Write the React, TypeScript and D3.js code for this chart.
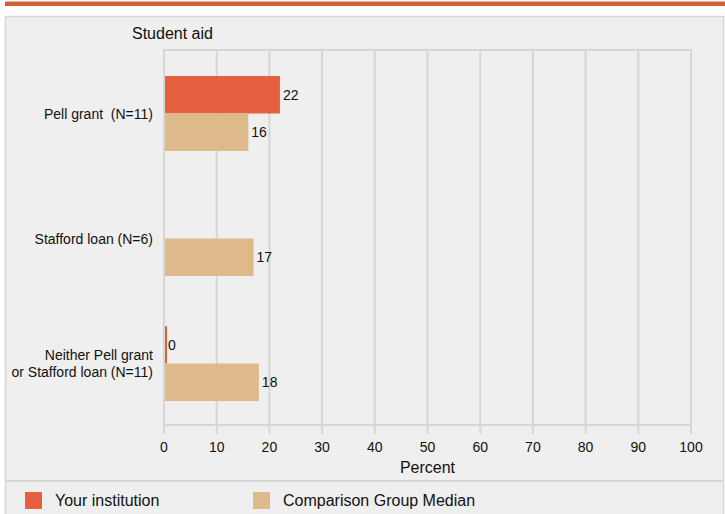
import { useEffect, useRef } from "react";
import * as d3 from "d3";

const WIDTH = 725;
const HEIGHT = 514;
const PLOT = { left: 164, right: 691, top: 51, bottom: 426 };
const FONT = "'Liberation Sans', Arial, sans-serif";

const categories = ["Pell grant  (N=11)", "Stafford loan (N=6)", "Neither Pell grant\nor Stafford loan (N=11)"];
const institution: (number | null)[] = [22, null, 0];
const comparison: (number | null)[] = [16, 17, 18];
const seriesNames = ["Your institution", "Comparison Group Median"];
const seriesColors = ["#e4603e", "#deb989"];
const xTicks = [0, 10, 20, 30, 40, 50, 60, 70, 80, 90, 100];

export default function App() {
  const ref = useRef<SVGSVGElement>(null);

  useEffect(() => {
    const svg = d3.select(ref.current);
    svg.selectAll("*").remove();

    // top accent band and panel
    svg.append("rect").attr("x", 5).attr("y", 1.5).attr("width", WIDTH).attr("height", 4.5).attr("fill", "#d15f3b");
    svg
      .append("rect")
      .attr("x", 5.5)
      .attr("y", 16.5)
      .attr("width", 718)
      .attr("height", HEIGHT)
      .attr("fill", "#efefef")
      .attr("stroke", "#d6d6d6")
      .attr("stroke-width", 1.5);
    svg
      .append("line")
      .attr("x1", 5)
      .attr("x2", 724)
      .attr("y1", 481)
      .attr("y2", 481)
      .attr("stroke", "#d6d6d6")
      .attr("stroke-width", 2);

    svg
      .append("text")
      .attr("x", 132)
      .attr("y", 39)
      .attr("font-family", FONT)
      .attr("font-size", 16)
      .attr("fill", "#111")
      .text("Student aid");

    const x = d3.scaleLinear().domain([0, 100]).range([PLOT.left, PLOT.right]);
    const y = d3.scaleBand<string>().domain(categories).range([PLOT.top, PLOT.bottom]).paddingInner(0.4).paddingOuter(0.2);
    const sub = d3.scaleBand<number>().domain([0, 1]).range([0, y.bandwidth()]);

    // grid
    const grid = svg.append("g");
    grid
      .selectAll("line.v")
      .data(xTicks)
      .join("line")
      .attr("x1", (d) => x(d))
      .attr("x2", (d) => x(d))
      .attr("y1", PLOT.top - 1)
      .attr("y2", PLOT.bottom + 8)
      .attr("stroke", "#d6d6d6")
      .attr("stroke-width", 2);
    [PLOT.top - 1, PLOT.bottom - 1].forEach((yy) =>
      grid
        .append("line")
        .attr("x1", PLOT.left - 1)
        .attr("x2", PLOT.right + 1)
        .attr("y1", yy)
        .attr("y2", yy)
        .attr("stroke", "#d6d6d6")
        .attr("stroke-width", 2)
    );

    // tick labels
    svg
      .append("g")
      .selectAll("text")
      .data(xTicks)
      .join("text")
      .attr("x", (d) => x(d))
      .attr("y", 452)
      .attr("text-anchor", "middle")
      .attr("font-family", FONT)
      .attr("font-size", 14)
      .attr("fill", "#111")
      .text((d) => String(d));
    svg
      .append("text")
      .attr("x", (PLOT.left + PLOT.right) / 2)
      .attr("y", 473)
      .attr("text-anchor", "middle")
      .attr("font-family", FONT)
      .attr("font-size", 16)
      .attr("fill", "#111")
      .text("Percent");

    // category labels
    const cat = svg.append("g");
    categories.forEach((c) => {
      const lines = c.split("\n");
      const cy = (y(c) ?? 0) + y.bandwidth() / 2;
      lines.forEach((ln, i) => {
        cat
          .append("text")
          .attr("x", 153)
          .attr("y", cy + (i - (lines.length - 1) / 2) * 17 + 5)
          .attr("text-anchor", "end")
          .attr("font-family", FONT)
          .attr("font-size", 14)
          .attr("fill", "#111")
          .style("white-space", "pre")
          .text(ln);
      });
    });

    // bars
    const series = [institution, comparison];
    series.forEach((vals, si) => {
      const g = svg.append("g");
      vals.forEach((v, i) => {
        if (v === null) return;
        const by = (y(categories[i]) ?? 0) + (sub(si) ?? 0);
        const w = Math.max(x(v) - x(0), 2);
        g.append("rect")
          .attr("x", x(0) + 1)
          .attr("y", by)
          .attr("width", v === 0 ? 2 : w - 1)
          .attr("height", sub.bandwidth())
          .attr("fill", seriesColors[si]);
        g.append("text")
          .attr("x", x(v) + (v === 0 ? 4 : 3))
          .attr("y", by + sub.bandwidth() / 2 + 5)
          .attr("font-family", FONT)
          .attr("font-size", 14)
          .attr("fill", "#111")
          .text(String(v));
      });
    });

    // legend
    const legendX = [25, 253];
    seriesNames.forEach((name, i) => {
      svg.append("rect").attr("x", legendX[i]).attr("y", 492).attr("width", 17).attr("height", 17).attr("fill", seriesColors[i]);
      svg
        .append("text")
        .attr("x", legendX[i] + 30)
        .attr("y", 506)
        .attr("font-family", FONT)
        .attr("font-size", 16)
        .attr("fill", "#111")
        .text(name);
    });
  }, []);

  return <svg ref={ref} width={WIDTH} height={HEIGHT} style={{ position: "absolute", left: 0, top: 0 }} />;
}
